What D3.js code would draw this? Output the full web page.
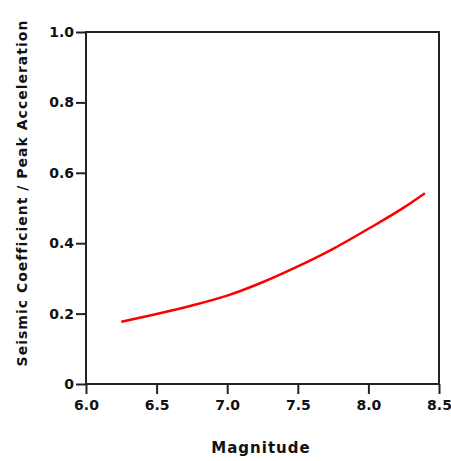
<!DOCTYPE html>
<html>
<head>
<meta charset="utf-8">
<script src="https://cdn.jsdelivr.net/npm/d3@7"></script>
<style>
  body { margin: 0; background: #fff; }
  svg text { font-family: "DejaVu Sans", sans-serif; font-weight: bold; fill: #111; }
</style>
</head>
<body>
<div id="chart"></div>
<script>
// magnitude vs ratio of seismic coefficient to peak acceleration
const magnitude = [6.25, 6.5, 6.75, 7.0, 7.25, 7.5, 7.75, 8.0, 8.25, 8.4]
const ratio     = [0.177, 0.199, 0.223, 0.251, 0.289, 0.334, 0.384, 0.441, 0.501, 0.542]
const xTicks = [6.0, 6.5, 7.0, 7.5, 8.0, 8.5]
const yTicks = [0, 0.2, 0.4, 0.6, 0.8, 1.0]

const W = 451, H = 461
const m = { left: 86, right: 12, top: 32, bottom: 77 }

const svg = d3.select('#chart').append('svg')
  .attr('width', W)
  .attr('height', H)

const x = d3.scaleLinear().domain([6.0, 8.5]).range([m.left, W - m.right])
const y = d3.scaleLinear().domain([0, 1.0]).range([H - m.bottom, m.top])

// frame
svg.append('rect')
  .attr('x', x(6.0)).attr('y', y(1.0))
  .attr('width', x(8.5) - x(6.0)).attr('height', y(0) - y(1.0))
  .attr('fill', 'none').attr('stroke', '#222').attr('stroke-width', 2)

const xAxis = svg.append('g')
  .attr('transform', `translate(0,${y(0)})`)
  .call(d3.axisBottom(x).tickValues(xTicks).tickSize(10).tickSizeOuter(0).tickPadding(6)
    .tickFormat(d3.format('.1f')))
xAxis.select('.domain').remove()
xAxis.selectAll('line').attr('stroke', '#222').attr('stroke-width', 2)
xAxis.selectAll('text').attr('font-size', 14)

const yAxis = svg.append('g')
  .attr('transform', `translate(${x(6.0)},0)`)
  .call(d3.axisLeft(y).tickValues(yTicks).tickSize(10).tickSizeOuter(0).tickPadding(2)
    .tickFormat(d => d === 0 ? '0' : d.toFixed(1)))
yAxis.select('.domain').remove()
yAxis.selectAll('line').attr('stroke', '#222').attr('stroke-width', 2)
yAxis.selectAll('text').attr('font-size', 14)

const pts = magnitude.map((d, i) => [d, ratio[i]])
const line = d3.line()
  .x(d => x(d[0]))
  .y(d => y(d[1]))
  .curve(d3.curveMonotoneX)

svg.append('path')
  .datum(pts)
  .attr('d', line)
  .attr('fill', 'none')
  .attr('stroke', '#ff0000')
  .attr('stroke-width', 2.5)

svg.append('text')
  .attr('x', 261).attr('y', 453)
  .attr('text-anchor', 'middle')
  .attr('font-size', 15)
  .style('letter-spacing', '1px')
  .text('Magnitude')

svg.append('text')
  .attr('transform', 'translate(27,193) rotate(-90)')
  .attr('text-anchor', 'middle')
  .attr('font-size', 14)
  .style('letter-spacing', '1px')
  .text('Seismic Coefficient / Peak Acceleration')
</script>
</body>
</html>
